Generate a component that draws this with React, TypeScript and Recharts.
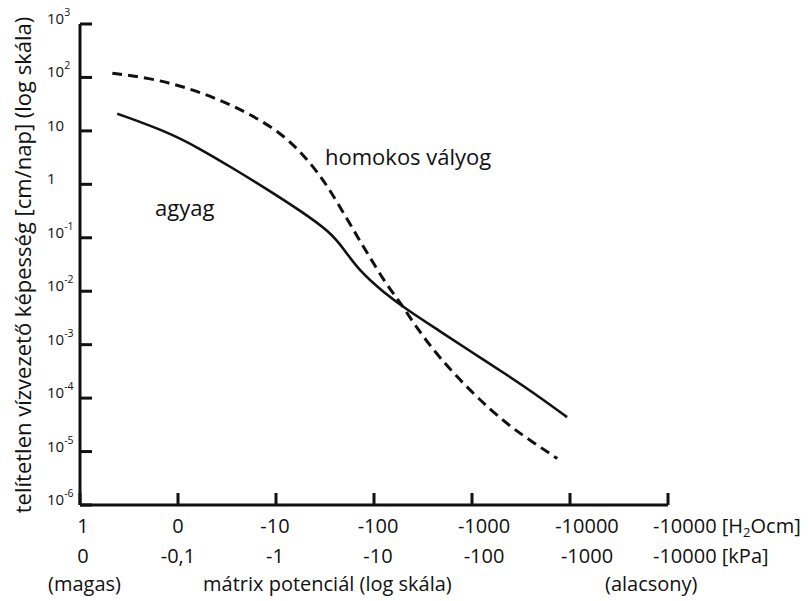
import React from "react";
import { LineChart, Line, XAxis, YAxis, Customized } from "recharts";

// x positions are tick indices on the log matrix-potential axis (0..6)
const xTicks = [0, 1, 2, 3, 4, 5, 6];
const h2oLabels = ["1", "0", "-10", "-100", "-1000", "-10000", "-10000"];
const kpaLabels = ["0", "-0,1", "-1", "-10", "-100", "-1000", "-10000"];
const yExponents = [-6, -5, -4, -3, -2, -1, 0, 1, 2, 3];
const yTicks = yExponents.map((e) => Math.pow(10, e));

const agyagX = [0.38, 0.88, 1.21, 1.56, 1.9, 2.24, 2.55, 2.68, 2.85, 3.09, 3.33, 3.67, 4.01, 4.36, 4.69, 4.97];
const agyagK = [21, 9.8, 4.8, 2.0, 0.83, 0.33, 0.13, 0.066, 0.024, 0.0098, 0.0046, 0.0018, 7.0e-4, 2.7e-4, 1.05e-4, 4.4e-5];

const homokosX = [0.33, 0.71, 1.04, 1.39, 1.73, 2.07, 2.31, 2.52, 2.78, 2.92, 3.13, 3.26, 3.44, 3.67, 4.01, 4.36, 4.62, 4.87];
const homokosK = [120, 97, 69, 41, 21, 8.7, 3.1, 1.0, 0.15, 0.056, 0.013, 0.0065, 0.002, 5.6e-4, 1.2e-4, 3.2e-5, 1.5e-5, 7.4e-6];

const agyagData = agyagX.map((x, i) => ({ x, k: agyagK[i] }));
const homokosData = homokosX.map((x, i) => ({ x, k: homokosK[i] }));

const FONT = "'Open Sans', 'Noto Sans', sans-serif";
const INK = "#111";
const labelShift = [3, 0, -1, 4, 12, 17];
const TICK_LEN = 12;
const Y_TICK_MARGIN = 45;

function YTick(props: any) {
  const x = Number(props.x);
  const y = Number(props.y);
  const e = Math.round(Math.log10(props.payload.value));
  return (
    <text x={x} y={y} textAnchor="start" fontSize={15} fontFamily={FONT} fill={INK}>
      {e === 0 ? "1" : "10"}
      {e !== 0 && e !== 1 ? (
        <tspan dy={-8} fontSize={10.5}>
          {String(e)}
        </tspan>
      ) : null}
    </text>
  );
}

function XTick(props: any) {
  const x = Number(props.x);
  const y = Number(props.y);
  const index = props.index;
  const last = index === xTicks.length - 1;
  const r1 = y + 28;
  const r2 = y + 58;
  if (last) {
    return (
      <g fontFamily={FONT} fontSize={20} fill={INK}>
        <text x={x - 15} y={r1} textAnchor="start">
          {h2oLabels[index]} [H<tspan fontSize={13} dy={4}>2</tspan>
          <tspan dy={-4}>Ocm]</tspan>
        </text>
        <text x={x - 15} y={r2} textAnchor="start">
          {kpaLabels[index] + " [kPa]"}
        </text>
      </g>
    );
  }
  const dx = labelShift[index] || 0;
  return (
    <g fontFamily={FONT} fontSize={20} fill={INK}>
      <text x={x + dx} y={r1} textAnchor="middle">
        {h2oLabels[index]}
      </text>
      <text x={x + dx} y={r2} textAnchor="middle">
        {kpaLabels[index]}
      </text>
    </g>
  );
}

function Extras() {
  return (
    <g fontFamily={FONT} fill={INK}>
      <text x={48} y={591} fontSize={20}>(magas)</text>
      <text x={203} y={591} fontSize={20}>mátrix potenciál (log skála)</text>
      <text x={605} y={591} fontSize={20}>(alacsony)</text>
      <text
        transform="translate(31,265) rotate(-90)"
        textAnchor="middle"
        fontSize={22}
      >
        telítetlen vízvezető képesség [cm/nap] (log skála)
      </text>
      <text x={325} y={165} fontSize={22}>homokos vályog</text>
      <text x={155} y={216} fontSize={22}>agyag</text>
    </g>
  );
}

export default function App() {
  return (
    <div style={{ position: "absolute", left: 0, top: 0, background: "#fff" }}>
      <LineChart
        width={809}
        height={601}
        margin={{ top: 24, right: 141, bottom: 0, left: 0 }}
      >
        <XAxis
          type="number"
          dataKey="x"
          domain={[0, 6]}
          ticks={xTicks}
          interval={0}
          height={96}
          axisLine={{ stroke: INK, strokeWidth: 3 }}
          tickLine={{ stroke: INK, strokeWidth: 3 }}
          tickSize={-TICK_LEN}
          tickMargin={12}
          tick={<XTick />}
          allowDataOverflow
        />
        <YAxis
          type="number"
          scale="log"
          dataKey="k"
          domain={[1e-6, 1000]}
          ticks={yTicks}
          interval={0}
          width={80}
          axisLine={{ stroke: INK, strokeWidth: 3 }}
          tickLine={{ stroke: INK, strokeWidth: 3 }}
          tickSize={-TICK_LEN}
          tickMargin={Y_TICK_MARGIN}
          tick={<YTick />}
          allowDataOverflow
        />
        <Line
          data={homokosData}
          dataKey="k"
          type="basis"
          stroke={INK}
          strokeWidth={3}
          strokeDasharray="10 6"
          dot={false}
          isAnimationActive={false}
        />
        <Line
          data={agyagData}
          dataKey="k"
          type="basis"
          stroke={INK}
          strokeWidth={2.6}
          dot={false}
          isAnimationActive={false}
        />
        <Customized component={Extras} />
      </LineChart>
    </div>
  );
}
